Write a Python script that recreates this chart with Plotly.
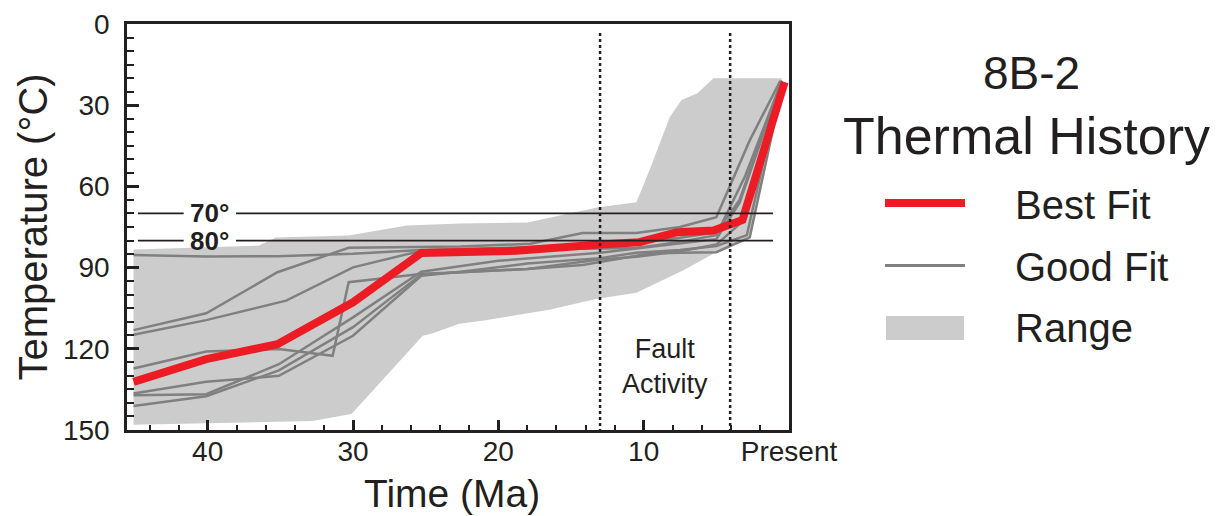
import plotly.graph_objects as go

# ---------------- data ----------------
best_t = [45.1, 40.1, 35.2, 30.0, 25.3, 18.8, 13.0, 10.3, 7.7, 5.2, 3.2, 0.3]
best_c = [132.2, 123.8, 118.3, 102.8, 84.6, 83.8, 81.5, 80.6, 76.9, 76.3, 72.4, 21.5]

g1_t = [45.1, 40.1, 35.2, 30.0, 25.3, 18.0, 10.5, 7.5, 5.0, 3.4, 0.5]
g1_c = [85.3, 85.9, 85.8, 84.9, 83.5, 82.5, 81.0, 79.0, 77.0, 65.0, 21.0]
g2_t = [45.1, 40.1, 35.2, 30.3, 22.6, 17.8, 14.2, 10.5, 7.5, 5.0, 2.7, 0.6]
g2_c = [113.1, 106.9, 91.7, 82.7, 82.2, 81.2, 77.2, 77.2, 75.0, 71.4, 43.0, 21.0]
g3_t = [45.1, 40.1, 34.6, 30.0, 25.7, 18.0, 10.5, 7.5, 5.0, 3.0, 0.5]
g3_c = [114.8, 109.4, 102.2, 89.9, 84.3, 83.3, 82.8, 80.5, 78.0, 56.0, 21.0]
g4_t = [45.1, 40.1, 35.1, 31.4, 30.3, 25.2, 22.6, 18.0, 14.2, 9.6, 7.5, 5.0, 2.7, 0.4]
g4_c = [127.3, 121.0, 120.1, 122.6, 95.4, 92.3, 91.7, 90.5, 89.0, 84.8, 84.5, 84.3, 78.8, 21.5]
g5_t = [45.1, 40.1, 35.1, 30.0, 25.3, 22.6, 18.0, 13.0, 10.5, 7.5, 5.0, 2.9, 0.5]
g5_c = [136.5, 132.2, 130.0, 115.2, 93.0, 91.5, 88.5, 86.5, 84.5, 83.5, 82.0, 78.0, 21.0]
g6_t = [45.1, 40.1, 35.1, 30.0, 25.3, 20.0, 13.0, 10.5, 7.5, 5.0, 3.4, 0.5]
g6_c = [137.2, 136.8, 125.7, 108.4, 91.5, 87.5, 84.5, 83.0, 81.0, 79.5, 66.0, 21.0]
g7_t = [45.1, 40.1, 35.1, 30.0, 25.3, 18.0, 13.0, 10.5, 7.5, 5.0, 3.0, 0.5]
g7_c = [141.1, 137.5, 128.0, 112.0, 92.5, 90.5, 87.0, 86.0, 84.0, 81.5, 72.0, 21.0]
good_t = [g1_t, g2_t, g3_t, g4_t, g5_t, g6_t, g7_t]
good_c = [g1_c, g2_c, g3_c, g4_c, g5_c, g6_c, g7_c]

range_upper_t = [45.1, 36.5, 35.3, 30.3, 26.3, 22.6, 18.0, 16.5, 13.2, 10.5, 9.6, 8.2, 7.4, 6.3, 5.2, 0.6]
range_upper_c = [83.3, 81.9, 78.9, 78.1, 74.4, 73.7, 73.3, 71.5, 67.8, 65.9, 54.0, 34.4, 28.1, 25.6, 20.0, 20.0]
range_lower_t = [45.1, 32.8, 30.1, 25.2, 24.6, 22.7, 21.1, 16.5, 13.2, 10.5, 7.3, 5.0, 2.7, 0.5]
range_lower_c = [148.1, 146.7, 144.1, 115.2, 114.4, 110.7, 109.6, 105.6, 101.5, 99.3, 91.1, 84.3, 78.8, 20.0]

ref_temps = [70, 80]
ref_labels = ["70°", "80°"]
fault_times = [13.0, 4.05]

x_tickvals = [40, 30, 20, 10, 0]
x_ticktext = ["40", "30", "20", "10", "Present"]
y_tickvals = [0, 30, 60, 90, 120, 150]

legend_labels = ["Best Fit", "Good Fit", "Range"]

# ---------------- style ----------------
FONT = "Liberation Sans, Arial, Helvetica, sans-serif"
INK = "#231f20"
RED = "#ed1c24"
GRAY = "#808080"
FILL = "#cccccc"

W, H = 1218, 516
L, R, T, B = 127, 789, 24, 430


def px(x):
    return (x - L) / (R - L)


def py(y):
    return (B - y) / (B - T)


fig = go.Figure()

# range polygon
poly_t = range_upper_t + range_lower_t[::-1]
poly_c = range_upper_c + range_lower_c[::-1]
fig.add_trace(go.Scatter(x=poly_t, y=poly_c, fill="toself", fillcolor=FILL,
                         line=dict(width=0), mode="lines", name="Range",
                         hoverinfo="skip", showlegend=False))

for i, (t, c) in enumerate(zip(good_t, good_c)):
    fig.add_trace(go.Scatter(x=t, y=c, mode="lines", line=dict(color=GRAY, width=2.5),
                             name="Good Fit", showlegend=False))

fig.add_trace(go.Scatter(x=best_t, y=best_c, mode="lines",
                         line=dict(color=RED, width=8), name="Best Fit", showlegend=False))

shapes = []
annotations = []

# reference isotherm lines with a gap for the label
for temp, lab in zip(ref_temps, ref_labels):
    shapes.append(dict(type="line", xref="x", yref="y", x0=44.8, x1=41.65, y0=temp, y1=temp,
                       line=dict(color=INK, width=1.8)))
    shapes.append(dict(type="line", xref="x", yref="y", x0=38.05, x1=1.1, y0=temp, y1=temp,
                       line=dict(color=INK, width=1.8)))
    annotations.append(dict(x=39.85, y=temp, xref="x", yref="y", text="<b>%s</b>" % lab,
                            showarrow=False, xanchor="center", yanchor="middle",
                            borderpad=0,
                            font=dict(family=FONT, size=26, color=INK)))

# fault activity dotted lines
for ft in fault_times:
    shapes.append(dict(type="line", xref="x", yref="y", x0=ft, x1=ft, y0=3.3, y1=150,
                       line=dict(color=INK, width=2.5, dash="dot")))
annotations.append(dict(x=8.5, y=126.5, xref="x", yref="y", text="Fault<br>Activity",
                        showarrow=False, xanchor="center", yanchor="middle",
                        font=dict(family=FONT, size=27, color=INK)))

# x axis title (placed as text below the tick labels)
annotations.append(dict(x=px(452), y=py(515.5), xref="paper", yref="paper", text="Time (Ma)",
                        showarrow=False, xanchor="center", yanchor="bottom",
                        borderpad=0,
                        font=dict(family=FONT, size=39, color=INK)))

# manual legend
annotations.append(dict(x=px(1031), y=py(73), xref="paper", yref="paper", text="8B-2",
                        showarrow=False, xanchor="center", yanchor="middle",
                        font=dict(family=FONT, size=46, color=INK)))
annotations.append(dict(x=px(1026), y=py(136), xref="paper", yref="paper", text="Thermal History",
                        showarrow=False, xanchor="center", yanchor="middle",
                        font=dict(family=FONT, size=52, color=INK)))
shapes.append(dict(type="line", xref="paper", yref="paper", x0=px(885), x1=px(965),
                   y0=py(203), y1=py(203), line=dict(color=RED, width=8)))
shapes.append(dict(type="line", xref="paper", yref="paper", x0=px(885), x1=px(965),
                   y0=py(265.5), y1=py(265.5), line=dict(color=GRAY, width=3)))
shapes.append(dict(type="rect", xref="paper", yref="paper", x0=px(886), x1=px(964),
                   y0=py(340), y1=py(316), line=dict(width=0), fillcolor=FILL))
for lab, yc in zip(legend_labels, [205, 267, 328]):
    annotations.append(dict(x=px(1013), y=py(yc), xref="paper", yref="paper", text=lab,
                            showarrow=False, xanchor="left", yanchor="middle",
                            font=dict(family=FONT, size=40, color=INK)))

axis_common = dict(showline=True, linecolor=INK, linewidth=2.5, mirror=True,
                   showgrid=False, zeroline=False, ticks="inside", tickcolor=INK,
                   tickwidth=2.5, automargin=False,
                   tickfont=dict(family=FONT, size=28, color=INK))

fig.update_layout(
    width=W, height=H,
    margin=dict(l=L, r=W - R, t=T, b=H - B),
    paper_bgcolor="white", plot_bgcolor="white",
    showlegend=False,
    shapes=shapes, annotations=annotations,
    xaxis=dict(range=[45.55, 0], tickmode="array", tickvals=x_tickvals, ticktext=x_ticktext,
               ticklen=10, ticklabelstandoff=-5,
               minor=dict(tickmode="linear", tick0=0, dtick=2, ticks="inside", ticklen=5.5,
                          tickwidth=2, tickcolor=INK),
               **axis_common),
    yaxis=dict(range=[150, 0], tickmode="array", tickvals=y_tickvals,
               ticklen=12, ticklabelstandoff=9,
               minor=dict(tickmode="linear", tick0=0, dtick=5, ticks="inside", ticklen=7,
                          tickwidth=2, tickcolor=INK),
               title=dict(text="Temperature (°C)", font=dict(family=FONT, size=40, color=INK), standoff=3),
               **axis_common),
)

fig.write_html("out.html", config={"displayModeBar": False},
               post_script="document.body.style.margin='0';document.body.style.overflow='hidden';")
